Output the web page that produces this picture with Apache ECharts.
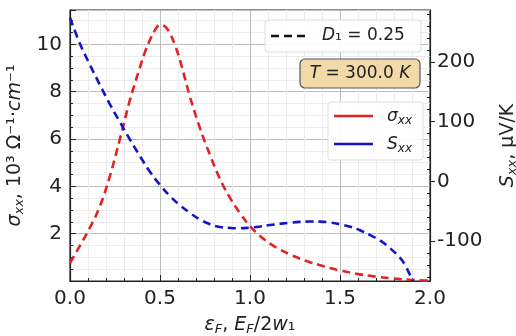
<!DOCTYPE html>
<html><head><meta charset="utf-8">
<script src="https://cdn.jsdelivr.net/npm/echarts@6/dist/echarts.min.js"></script>
<style>html,body{margin:0;padding:0;background:#fff}#c{width:516px;height:336px}</style>
</head><body><div id="c"></div>
<script>
// sigma_xx (10^3 Ohm^-1 cm^-1) vs epsilon_F
const sigmaX = [0,0.056,0.111,0.167,0.222,0.278,0.333,0.389,0.417,0.444,0.472,0.5,0.528,0.556,0.583,0.611,0.667,0.722,0.778,0.833,0.889,0.944,1.0,1.056,1.111,1.167,1.222,1.278,1.333,1.389,1.444,1.5,1.556,1.611,1.667,1.722,1.778,1.833,1.889,1.944,2.0];
const sigmaY = [0.76,1.5,2.26,3.17,4.44,6.02,7.65,9.04,9.68,10.18,10.6,10.82,10.75,10.45,9.97,9.33,7.77,6.46,5.32,4.31,3.51,2.87,2.32,1.90,1.58,1.33,1.12,0.94,0.79,0.67,0.55,0.44,0.36,0.28,0.22,0.16,0.12,0.08,0.05,0.03,0.01];
// S_xx (uV/K) vs epsilon_F
const seebX = [0,0.056,0.111,0.167,0.222,0.278,0.333,0.389,0.444,0.5,0.556,0.611,0.667,0.722,0.778,0.833,0.889,0.944,1.0,1.056,1.111,1.167,1.222,1.278,1.333,1.389,1.444,1.5,1.556,1.611,1.667,1.722,1.778,1.833,1.861,1.889,1.906];
const seebY = [274,230,195,161,129,99,70,42,16,-6,-25,-40,-53,-64,-72,-76.5,-78,-78.7,-77.5,-75.7,-73.2,-71.2,-69.3,-68,-67.3,-67.5,-69,-72,-76,-82,-90,-99,-112,-128,-140,-157,-168];
const rightTicks = [-100,0,100,200];
const rightMinor = [-160,-140,-120,-80,-60,-40,-20,20,40,60,80,120,140,160,180,220,240,260,280];

const pair = (xs, ys) => xs.map((x,i)=>[x, ys[i]]);
const FONT = 'DejaVu Sans';
const C = '#222';
const chart = echarts.init(document.getElementById('c'), null, {renderer:'canvas'});
const axisLine = {show:true, lineStyle:{color:C, width:1.2}};
const richName = {
  i:{fontFamily:FONT, fontStyle:'italic', fontSize:19, color:C},
  n:{fontFamily:FONT, fontSize:19, color:C},
  s:{fontFamily:FONT, fontStyle:'italic', fontSize:13, color:C, verticalAlign:'bottom', padding:[9,0,0,0]}
};
const richLeg = {
  i:{fontFamily:FONT, fontStyle:'italic', fontSize:17, fill:C},
  n:{fontFamily:FONT, fontSize:17, fill:C},
  s:{fontFamily:FONT, fontStyle:'italic', fontSize:12, fill:C, verticalAlign:'bottom', padding:[8,0,0,0]}
};
chart.setOption({
  animation:false,
  textStyle:{fontFamily:FONT},
  grid:{left:70, right:86, top:10, bottom:55, outerBoundsMode:'none', containLabel:false,
    show:true, borderColor:C, borderWidth:1.2, backgroundColor:'#fff'},
  xAxis:{type:'value', min:0, max:2, interval:0.5,
    axisLine, axisTick:{inside:true, length:6, lineStyle:{color:C}},
    minorTick:{show:true, splitNumber:5, length:3, lineStyle:{color:C}},
    splitLine:{show:true, lineStyle:{color:'#bdbdbd', width:1}},
    minorSplitLine:{show:true, lineStyle:{color:'#ececec', width:1}},
    axisLabel:{fontFamily:FONT, fontSize:20, color:C, margin:8, formatter:v=>v.toFixed(1)},
    name:'{i|ε}{s|F}{n|, }{i|E}{s|F}{n|/2}{i|w}{n|₁}', nameLocation:'middle', nameGap:33,
    nameTextStyle:{rich:richName}
  },
  yAxis:[
    {type:'value', min:0, max:11.45, interval:2, position:'left',
      axisLine, axisTick:{inside:true, length:6, lineStyle:{color:C}},
      minorTick:{show:true, splitNumber:4, length:3, lineStyle:{color:C}},
      splitLine:{show:true, lineStyle:{color:'#bdbdbd', width:1}},
      minorSplitLine:{show:true, lineStyle:{color:'#ececec', width:1}},
      axisLabel:{fontFamily:FONT, fontSize:20, color:C, margin:8, showMinLabel:false, showMaxLabel:false},
      name:'{i|σ}{s|xx}{n|, 10³ Ω⁻¹·}{i|cm}{n|⁻¹}', nameLocation:'middle', nameGap:37, nameRotate:90,
      nameTextStyle:{rich:richName}
    },
    {type:'value', min:-167, max:287, position:'right',
      axisLine, axisTick:{show:true, inside:false, length:5, customValues:rightTicks, lineStyle:{color:C}},
      splitLine:{show:false},
      axisLabel:{fontFamily:FONT, fontSize:20, color:C, margin:7, customValues:rightTicks},
      name:'{i|S}{s|xx}{n|, μV/K}', nameLocation:'middle', nameGap:67, nameRotate:90,
      nameTextStyle:{rich:richName}
    },
    {type:'value', min:-167, max:287, position:'right',
      axisLine:{show:false}, axisTick:{show:true, inside:true, length:3, customValues:rightMinor, lineStyle:{color:C}},
      splitLine:{show:false}, axisLabel:{show:false}
    }
  ],
  series:[
    {type:'line', yAxisIndex:0, data:pair(sigmaX, sigmaY), smooth:0.4, showSymbol:false,
      lineStyle:{color:'#e32222', width:2.6, type:[8,5]}},
    {type:'line', yAxisIndex:1, data:pair(seebX, seebY), smooth:0.4, showSymbol:false,
      lineStyle:{color:'#1515c8', width:2.6, type:[8,5]}}
  ],
  graphic:{elements:[
    {type:'rect', z:100, shape:{x:265, y:20, width:156, height:32, r:3}, style:{fill:'rgba(255,255,255,0.9)', stroke:'#dddddd', lineWidth:1}},
    {type:'line', z:101, shape:{x1:271, y1:36, x2:309, y2:36}, style:{stroke:'#111', lineWidth:2.6, lineDash:[8,5]}},
    {type:'text', z:101, x:322, y:36, style:{text:'{i|D}{n|₁ = 0.25}', verticalAlign:'middle', rich:richLeg}},
    {type:'rect', z:100, shape:{x:300, y:59, width:120, height:29, r:5}, style:{fill:'#f1d9a8', stroke:'#555', lineWidth:1.2}},
    {type:'text', z:101, x:360, y:74, style:{text:'{i|T}{n| = 300.0 }{i|K}', align:'center', verticalAlign:'middle', rich:richLeg}},
    {type:'rect', z:100, shape:{x:328, y:102, width:95, height:58, r:3}, style:{fill:'rgba(255,255,255,0.9)', stroke:'#dddddd', lineWidth:1}},
    {type:'line', z:101, shape:{x1:334, y1:116, x2:373, y2:116}, style:{stroke:'#e32222', lineWidth:2.6}},
    {type:'line', z:101, shape:{x1:334, y1:144, x2:373, y2:144}, style:{stroke:'#1515c8', lineWidth:2.6}},
    {type:'text', z:101, x:387, y:117, style:{text:'{i|σ}{s|xx}', verticalAlign:'middle', rich:richLeg}},
    {type:'text', z:101, x:387, y:145, style:{text:'{i|S}{s|xx}', verticalAlign:'middle', rich:richLeg}}
  ]}
});
</script></body></html>
